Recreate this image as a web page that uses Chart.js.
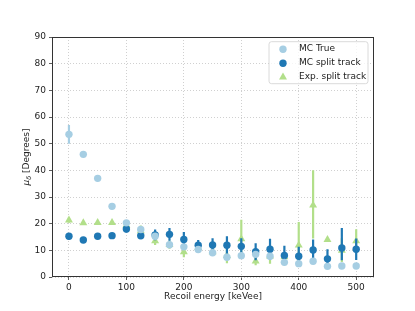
<!DOCTYPE html>
<html>
<head>
<meta charset="utf-8">
<script src="https://cdn.jsdelivr.net/npm/chart.js@4.4.1/dist/chart.umd.min.js"></script>
<style>
  html, body { margin: 0; padding: 0; background: #fff; }
  #wrap { width: 415px; height: 311px; }
</style>
</head>
<body>
<div id="wrap"><canvas id="chart" width="415" height="311"></canvas></div>
<script>
// energies (keVee) and the three series
const energies = [0, 25, 50, 75, 100, 125, 150, 175, 200, 225, 250, 275, 300, 325, 350, 375, 400, 425, 450, 475, 500];

const mcTrue = [53.5, 46, 37, 26.5, 20.3, 17.8, 15.3, 12.1, 11.3, 10.3, 9.1, 7.4, 8.0, 8.5, 7.8, 5.5, 5.0, 5.9, 4.0, 4.1, 4.1];
const mcTrueErrLow = [3.5, 0.7, 0.7, 0.8, 1, 1, 1, 1, 1, 1, 1, 1, 1, 1, 1, 1, 1, 1, 1, 1, 1];
const mcTrueErrHigh = [3.5, 0.7, 0.7, 0.8, 1, 1, 1, 1, 1, 1, 1, 1, 1, 1, 1, 1, 1, 1, 1, 1, 1];

const mcSplit = [15.3, 13.9, 15.3, 15.5, 18.0, 15.5, 15.8, 16.0, 14.1, 11.9, 12.0, 11.9, 11.5, 9.5, 10.4, 8.1, 7.8, 10.1, 6.8, 10.9, 10.4];
const mcSplitErrLow = [1.2, 1, 1, 1, 1.3, 1.3, 2, 2.4, 2.8, 2, 2.5, 3.2, 3, 3.2, 3.9, 3.6, 3.5, 4.5, 3.6, 4.6, 4];
const mcSplitErrHigh = [1.2, 1, 1, 1, 1.3, 1.3, 2, 2.4, 2.8, 2, 2.5, 3.4, 3, 3.2, 3.9, 3.6, 3.5, 4.0, 3.6, 7.5, 4];

const expSplit = [21.3, 20.3, 20.4, 20.4, 19.4, 17.3, 13.5, 12.1, 9.4, 11.0, 9.4, 8.0, 14.3, 5.9, 7.8, 7.5, 11.9, 26.9, 14.0, 10.0, 13.5];
const expSplitErrLow = [1, 0.5, 0.5, 0.5, 2, 2, 1.5, 1.5, 2, 1.5, 1.5, 2.8, 5.5, 1.5, 2.8, 1.8, 8, 12.5, 0.5, 4.4, 4.6];
const expSplitErrHigh = [1, 0.5, 0.5, 0.5, 2, 2, 1.5, 1.5, 2, 1.5, 1.5, 2.8, 7.2, 1.5, 2.8, 1.8, 8.7, 13.1, 0.5, 4.5, 4.4];

const xTickStep = 100;
const yTicks = [0, 90, 10]; // min, max, step

const fontFamily = "'DejaVu Sans', sans-serif";
const textColor = '#222';

function points(ys) {
  return energies.map((e, i) => ({x: e, y: ys[i]}));
}

// vertical error bars, drawn under the markers of each dataset
const errorBars = {
  id: 'errorBars',
  beforeDatasetDraw(chart, args) {
    const ds = chart.data.datasets[args.index];
    if (!ds.errLow) return;
    const {ctx, chartArea} = chart;
    const x = chart.scales.x, y = chart.scales.y;
    ctx.save();
    ctx.beginPath();
    ctx.rect(chartArea.left, chartArea.top, chartArea.width, chartArea.height);
    ctx.clip();
    ctx.strokeStyle = ds.backgroundColor;
    ctx.lineWidth = 2.2;
    ctx.beginPath();
    ds.data.forEach((p, i) => {
      const px = x.getPixelForValue(p.x);
      ctx.moveTo(px, y.getPixelForValue(p.y - ds.errLow[i]));
      ctx.lineTo(px, y.getPixelForValue(p.y + ds.errHigh[i]));
    });
    ctx.stroke();
    ctx.restore();
  }
};

function drawMarker(ctx, style, color, r, cx, cy) {
  ctx.fillStyle = color;
  ctx.beginPath();
  if (style === 'triangle') {
    ctx.moveTo(cx, cy - r);
    ctx.lineTo(cx + r * 0.866, cy + r * 0.5);
    ctx.lineTo(cx - r * 0.866, cy + r * 0.5);
    ctx.closePath();
  } else {
    ctx.arc(cx, cy, r, 0, Math.PI * 2);
  }
  ctx.fill();
}

// box around the axes, legend, y title
const frameAndLegend = {
  id: 'frameAndLegend',
  afterDatasetsDraw(chart) {
    const {ctx, chartArea: ca} = chart;
    ctx.save();
    ctx.strokeStyle = '#333';
    ctx.lineWidth = 1;
    ctx.strokeRect(Math.round(ca.left) + 0.5, Math.round(ca.top) + 0.5,
      Math.round(ca.width) - 1, Math.round(ca.height) - 1);

    // legend
    const w = 99, h = 42;
    const bx = ca.right - 6 - w, by = ca.top + 4.7;
    ctx.fillStyle = 'rgba(255,255,255,0.8)';
    ctx.strokeStyle = '#d0d0d0';
    ctx.lineWidth = 0.8;
    ctx.beginPath();
    ctx.roundRect(bx, by, w, h, 2.5);
    ctx.fill();
    ctx.stroke();
    ctx.font = '9px ' + fontFamily;
    ctx.textBaseline = 'middle';
    ctx.textAlign = 'left';
    chart.data.datasets.forEach((ds, i) => {
      const cy = by + 6.5 + i * 14;
      drawMarker(ctx, ds.pointStyle, ds.backgroundColor, ds.pointStyle === 'triangle' ? 4.6 : 3.7, bx + 14, cy + 1);
      ctx.fillStyle = textColor;
      ctx.fillText(ds.label, bx + 30, cy);
    });
    ctx.restore();
  },
  afterDraw(chart) {
    const {ctx, chartArea: ca} = chart;
    ctx.save();
    ctx.translate(26, (ca.top + ca.bottom) / 2);
    ctx.rotate(-Math.PI / 2);
    ctx.fillStyle = textColor;
    ctx.textBaseline = 'alphabetic';
    ctx.textAlign = 'left';
    const mainFont = 'italic 9px ' + fontFamily;
    const subFont = 'italic 6.5px ' + fontFamily;
    const restFont = '9px ' + fontFamily;
    const rest = ' [Degrees]';
    ctx.font = mainFont; const w1 = ctx.measureText('μ').width;
    ctx.font = subFont; const w2 = ctx.measureText('δ').width;
    ctx.font = restFont; const w3 = ctx.measureText(rest).width;
    let x0 = -(w1 + w2 + w3) / 2;
    ctx.font = mainFont; ctx.fillText('μ', x0, 3.2);
    ctx.font = subFont; ctx.fillText('δ', x0 + w1, 5.2);
    ctx.font = restFont; ctx.fillText(rest, x0 + w1 + w2, 3.2);
    ctx.restore();
  }
};

const tickFont = {family: fontFamily, size: 9};

new Chart(document.getElementById('chart'), {
  type: 'scatter',
  data: {
    datasets: [
      {
        label: 'MC True',
        data: points(mcTrue),
        errLow: mcTrueErrLow, errHigh: mcTrueErrHigh,
        backgroundColor: '#a6cee3', borderColor: '#a6cee3',
        pointStyle: 'circle', pointRadius: 3.7, borderWidth: 0
      },
      {
        label: 'MC split track',
        data: points(mcSplit),
        errLow: mcSplitErrLow, errHigh: mcSplitErrHigh,
        backgroundColor: '#1f78b4', borderColor: '#1f78b4',
        pointStyle: 'circle', pointRadius: 3.7, borderWidth: 0
      },
      {
        label: 'Exp. split track',
        data: points(expSplit),
        errLow: expSplitErrLow, errHigh: expSplitErrHigh,
        backgroundColor: '#b2df8a', borderColor: '#b2df8a',
        pointStyle: 'triangle', pointRadius: 4.6, borderWidth: 0
      }
    ]
  },
  options: {
    responsive: false,
    animation: false,
    events: [],
    devicePixelRatio: 1,
    layout: {padding: {top: 37, right: 41, left: 0, bottom: 0}},
    plugins: {legend: {display: false}, tooltip: {enabled: false}},
    scales: {
      x: {
        type: 'linear',
        min: -29.5, max: 531,
        afterFit: s => { s.height = 34; },
        ticks: {stepSize: xTickStep, includeBounds: false, padding: 2, color: textColor, font: tickFont, maxRotation: 0},
        grid: {color: '#c4c4c4', lineWidth: 0.8, tickLength: 3, tickColor: '#333', tickWidth: 0.8},
        border: {display: false, dash: [1, 2]},
        title: {display: true, text: 'Recoil energy [keVee]', color: textColor, font: tickFont, padding: {top: 0, bottom: 8.6}}
      },
      y: {
        min: yTicks[0], max: yTicks[1],
        afterFit: s => { s.width = 52; },
        ticks: {stepSize: yTicks[2], padding: 3, color: textColor, font: tickFont},
        grid: {color: '#c4c4c4', lineWidth: 0.8, tickLength: 3, tickColor: '#333', tickWidth: 0.8},
        border: {display: false, dash: [1, 2]}
      }
    }
  },
  plugins: [errorBars, frameAndLegend]
});
</script>
</body>
</html>
